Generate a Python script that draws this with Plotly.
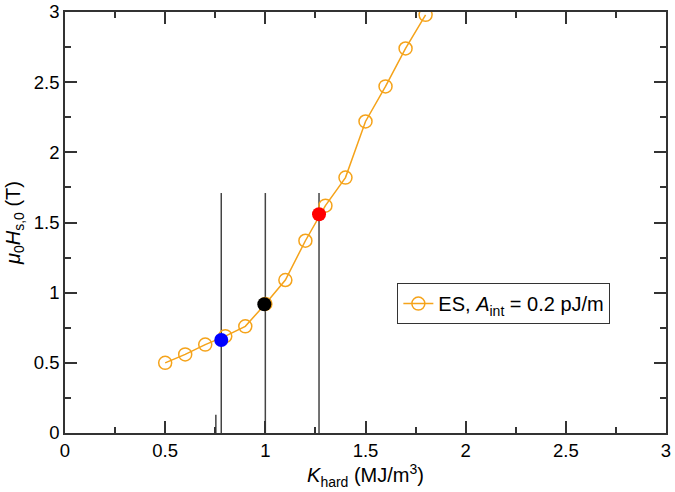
import plotly.graph_objects as go

# Data
k_hard = [0.5, 0.6, 0.7, 0.8, 0.9, 1.0, 1.1, 1.2, 1.3, 1.4, 1.5, 1.6, 1.7, 1.8]
hs0 = [0.50, 0.56, 0.63, 0.69, 0.76, 0.92, 1.09, 1.37, 1.62, 1.82, 2.22, 2.47, 2.74, 2.98]

highlight_x = [0.78, 0.995, 1.268]
highlight_y = [0.663, 0.917, 1.559]
highlight_colors = ["#0000ff", "#000000", "#ff0000"]

vline_x = [0.78, 1.0, 1.268]
vline_top = 1.71
short_line_x = 0.753
short_line_top = 0.13

x_ticks = [0, 0.5, 1, 1.5, 2, 2.5, 3]
x_ticklabels = ["0", "0.5", "1", "1.5", "2", "2.5", "3"]
y_ticks = [0, 0.5, 1, 1.5, 2, 2.5, 3]
y_ticklabels = ["0", "0.5", "1", "1.5", "2", "2.5", "3"]

FONT = "Liberation Sans, Arial, sans-serif"
ORANGE = "#f5a31a"

fig = go.Figure()

# vertical reference lines
for vx in vline_x:
    fig.add_trace(go.Scatter(x=[vx, vx], y=[0, vline_top], mode="lines",
                             line=dict(color="#444444", width=1.5),
                             showlegend=False, hoverinfo="skip"))
fig.add_trace(go.Scatter(x=[short_line_x, short_line_x], y=[0, short_line_top], mode="lines",
                         line=dict(color="#444444", width=1.5),
                         showlegend=False, hoverinfo="skip"))

fig.add_trace(go.Scatter(
    x=k_hard, y=hs0, mode="lines+markers",
    name="ES, <i>A</i><sub>int</sub> = 0.2 pJ/m",
    line=dict(color=ORANGE, width=1.5),
    marker=dict(symbol="circle-open", size=13, color=ORANGE, line=dict(width=1.5, color=ORANGE)),
))

fig.add_trace(go.Scatter(
    x=highlight_x, y=highlight_y, mode="markers",
    marker=dict(size=14, color=highlight_colors),
    showlegend=False,
))

axis_common = dict(
    showgrid=False, zeroline=False, showline=True, linecolor="#333333", linewidth=1.5,
    mirror="ticks", ticks="inside", ticklen=12, tickwidth=1.5, tickcolor="#333333",
    tickfont=dict(family=FONT, size=18.5, color="#000000"),
    minor=dict(ticks="inside", ticklen=6, tickwidth=1.5, tickcolor="#333333", dtick=0.25, showgrid=False),
    automargin=False,
)

fig.update_layout(
    width=675, height=492,
    margin=dict(l=65, r=9, t=12, b=59),
    paper_bgcolor="white", plot_bgcolor="white",
    font=dict(family=FONT, size=18, color="#000000"),
    xaxis=dict(range=[0, 3], tickvals=x_ticks, ticktext=x_ticklabels,
               title=dict(text="<i>K</i><sub>hard</sub> (MJ/m<sup>3</sup>)", standoff=6,
                          font=dict(family=FONT, size=20)),
               **axis_common),
    yaxis=dict(range=[0, 3], tickvals=y_ticks, ticktext=y_ticklabels,
               title=dict(text="<i>μ</i><sub>0</sub><i>H</i><sub>s,0</sub> (T)", standoff=8,
                          font=dict(family=FONT, size=20)),
               **axis_common),
    legend=dict(x=0.553, y=0.356, xanchor="left", yanchor="top",
                bordercolor="#333333", borderwidth=1, bgcolor="white",
                font=dict(family=FONT, size=20)),
)

fig.write_html("out.html", config={"displayModeBar": False},
               post_script="document.body.style.margin='0';document.body.style.overflow='hidden';")
